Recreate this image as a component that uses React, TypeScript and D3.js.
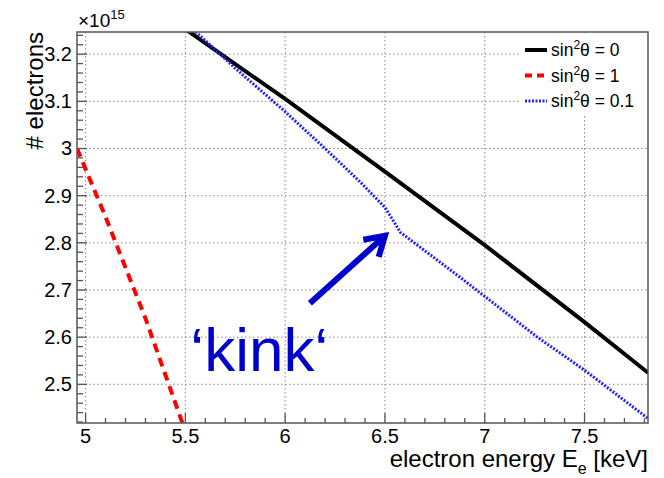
import React from "react";
import * as d3 from "d3";

// energies in keV, counts in units of 1e15
const blackE = [5.5, 6.0, 6.5, 7.0, 7.5, 7.82];
const blackN = [3.253, 3.105, 2.951, 2.795, 2.632, 2.524];

const redE = [4.957, 5.1, 5.3, 5.5];
const redN = [3.0, 2.855, 2.64, 2.4];

const blueE = [5.5, 5.553, 5.75, 6.0, 6.2, 6.376, 6.5, 6.578, 6.6, 6.876, 7.264, 7.5, 7.82];
const blueN = [3.268, 3.247, 3.17, 3.078, 3.0, 2.929, 2.875, 2.822, 2.815, 2.727, 2.6, 2.53, 2.427];

const xTicks = [5, 5.5, 6, 6.5, 7, 7.5];
const xTickLabels = ["5", "5.5", "6", "6.5", "7", "7.5"];
const yTicks = [2.5, 2.6, 2.7, 2.8, 2.9, 3.0, 3.1, 3.2];
const yTickLabels = ["2.5", "2.6", "2.7", "2.8", "2.9", "3", "3.1", "3.2"];

// annotation in data units
const arrowFrom = [6.124, 2.672];
const arrowTo = [6.5, 2.815];
const kinkAt = [5.525, 2.528];

const W = 664;
const H = 478;
const left = 77;
const right = 648;
const top = 32;
const bottom = 423;
const font = "'Liberation Sans', Arial, Helvetica, sans-serif";
const frameColor = "#555";
const blue = "#0000cc";

const App = () => {
  const x = d3.scaleLinear().domain([4.957, 7.818]).range([left, right]);
  const y = d3.scaleLinear().domain([2.418, 3.247]).range([bottom, top]);

  const line = d3
    .line<[number, number]>()
    .x((d) => x(d[0]))
    .y((d) => y(d[1]));

  const zip = (a: number[], b: number[]) => a.map((v, i) => [v, b[i]] as [number, number]);

  const minorX = d3.range(5.0, 7.81, 0.1);
  const minorY = d3.range(2.42, 3.241, 0.02);

  // arrow head
  const ax0 = x(arrowFrom[0]), ay0 = y(arrowFrom[1]);
  const ax1 = x(arrowTo[0]), ay1 = y(arrowTo[1]);
  const ang = Math.atan2(ay1 - ay0, ax1 - ax0);
  const hl = 22;
  const h1 = [ax1 - hl * Math.cos(ang - 0.55), ay1 - hl * Math.sin(ang - 0.55)];
  const h2 = [ax1 - hl * Math.cos(ang + 0.55), ay1 - hl * Math.sin(ang + 0.55)];

  const legendItems = [
    { label: "0", color: "#000", width: 4, dash: null },
    { label: "1", color: "#ff0000", width: 4, dash: "7,5" },
    { label: "0.1", color: "#2222ff", width: 3, dash: "2,1.5" },
  ];

  return (
    <svg
      width={W}
      height={H}
      style={{ position: "absolute", left: 0, top: 0, background: "#fff" }}
      fontFamily={font}
    >
      <defs>
        <clipPath id="plot-clip">
          <rect x={left} y={top} width={right - left} height={bottom - top} />
        </clipPath>
      </defs>
      <rect x={0} y={0} width={W} height={H} fill="#fff" />

      {/* grid */}
      {xTicks.map((t) => (
        <line key={"gx" + t} x1={x(t)} x2={x(t)} y1={top} y2={bottom}
          stroke="#888" strokeWidth={1} strokeDasharray="1.5,2.5" />
      ))}
      {yTicks.map((t) => (
        <line key={"gy" + t} x1={left} x2={right} y1={y(t)} y2={y(t)}
          stroke="#888" strokeWidth={1} strokeDasharray="1.5,2.5" />
      ))}

      {/* ticks */}
      {minorX.map((t) => {
        const major = xTicks.some((m) => Math.abs(m - t) < 1e-6);
        return (
          <line key={"tx" + t} x1={x(t)} x2={x(t)} y1={bottom} y2={bottom - (major ? 10 : 5)}
            stroke={frameColor} strokeWidth={1.3} />
        );
      })}
      {minorY.map((t) => {
        const major = yTicks.some((m) => Math.abs(m - t) < 1e-6);
        return (
          <line key={"ty" + t} x1={left} x2={left + (major ? 10 : 6)} y1={y(t)} y2={y(t)}
            stroke={frameColor} strokeWidth={1.3} />
        );
      })}

      {/* curves */}
      <g clipPath="url(#plot-clip)" fill="none">
        <path d={line(zip(redE, redN)) || ""} stroke="#ff0000" strokeWidth={4} strokeDasharray="9,6" />
        <path d={line(zip(blackE, blackN)) || ""} stroke="#000" strokeWidth={4} />
        <path d={line(zip(blueE, blueN)) || ""} stroke="#2222ff" strokeWidth={3} strokeDasharray="2,1.5" />
      </g>

      {/* legend */}
      <rect x={520} y={top + 1} width={right - 521} height={82} fill="#fff" />
      {legendItems.map((d, i) => (
        <g key={d.label} transform={`translate(525, ${50 + i * 25.5})`}>
          <line x1={0} x2={22} y1={0} y2={0} stroke={d.color} strokeWidth={d.width}
            strokeDasharray={d.dash || undefined} />
          <text x={26} y={6} fontSize={17.5} fill="#000">
            sin<tspan fontSize={12} dy={-7}>2</tspan><tspan dy={7}>θ = {d.label}</tspan>
          </text>
        </g>
      ))}

      {/* frame */}
      <rect x={left} y={top} width={right - left} height={bottom - top} fill="none"
        stroke={frameColor} strokeWidth={1.5} />

      {/* tick labels */}
      {xTicks.map((t, i) => (
        <text key={"lx" + t} x={x(t)} y={443} fontSize={20} textAnchor="middle" fill="#000">
          {xTickLabels[i]}
        </text>
      ))}
      {yTicks.map((t, i) => (
        <text key={"ly" + t} x={72} y={y(t) + 7} fontSize={20} textAnchor="end" fill="#000">
          {yTickLabels[i]}
        </text>
      ))}
      <text x={78} y={27} fontSize={19} fill="#000">
        ×10<tspan fontSize={13} dy={-8}>15</tspan>
      </text>

      {/* axis titles */}
      <text x={right} y={467} fontSize={24} textAnchor="end" fill="#000">
        electron energy E<tspan fontSize={16} dy={7}>e</tspan><tspan dy={-7}> [keV]</tspan>
      </text>
      <text transform={`translate(43, ${top}) rotate(-90)`} fontSize={24} textAnchor="end" fill="#000">
        # electrons
      </text>

      {/* annotation */}
      <line x1={ax0} y1={ay0} x2={ax1} y2={ay1} stroke={blue} strokeWidth={6} />
      <polyline points={`${h1[0]},${h1[1]} ${ax1},${ay1} ${h2[0]},${h2[1]}`} fill="none"
        stroke={blue} strokeWidth={6} strokeLinejoin="miter" />
      <text x={x(kinkAt[0])} y={y(kinkAt[1])} fontSize={62} fill={blue}>
        ‘kink‘
      </text>
    </svg>
  );
};

export default App;
